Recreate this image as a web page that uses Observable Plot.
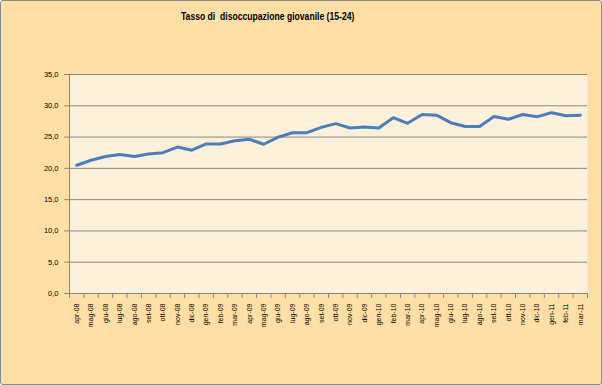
<!DOCTYPE html>
<html>
<head>
<meta charset="utf-8">
<script src="https://cdn.jsdelivr.net/npm/d3@7"></script>
<script src="https://cdn.jsdelivr.net/npm/@observablehq/plot@0.6"></script>
<style>
  html, body { margin: 0; padding: 0; background: #fff; }
  #wrap {
    position: relative; width: 600px; height: 383px;
    border: 1px solid #8a8a8a; border-radius: 3px;
    background: #FFDFA6; overflow: hidden;
  }
  #title {
    position: absolute; left: 180px; top: 10px;
    font-family: "Liberation Sans", Arial, sans-serif;
    font-weight: bold; font-size: 10px; color: #000; white-space: pre;
    transform-origin: 0 0; transform: scaleX(0.86);
  }
  #chart { position: absolute; left: 0; top: 30px; }
</style>
</head>
<body>
<div id="wrap">
  <div id="title">Tasso di  disoccupazione giovanile (15-24)</div>
  <div id="chart"></div>
</div>
<script>
const months = ["apr-08","mag-08","giu-08","lug-08","ago-08","set-08","ott-08","nov-08","dic-08",
  "gen-09","feb-09","mar-09","apr-09","mag-09","giu-09","lug-09","ago-09","set-09","ott-09","nov-09","dic-09",
  "gen-10","feb-10","mar-10","apr-10","mag-10","giu-10","lug-10","ago-10","set-10","ott-10","nov-10","dic-10",
  "gen-11","feb-11","mar-11"];
const values = [20.5, 21.3, 21.9, 22.2, 21.9, 22.3, 22.5, 23.4, 22.9,
  23.9, 23.9, 24.4, 24.65, 23.85, 25.0, 25.7, 25.7, 26.55, 27.15, 26.45, 26.6,
  26.45, 28.1, 27.2, 28.6, 28.5, 27.3, 26.7, 26.7, 28.3, 27.85, 28.6, 28.25,
  28.9, 28.4, 28.5];
const yTicks = [0, 5, 10, 15, 20, 25, 30, 35];

const data = months.map((m, k) => ({pos: k + 0.5, m, v: values[k]}));
const bounds = d3.range(months.length + 1);

const chart = Plot.plot({
  width: 600, height: 353,
  marginTop: 43, marginBottom: 91, marginLeft: 68, marginRight: 14,
  style: {background: "transparent", fontFamily: "'Liberation Sans', Arial, sans-serif", fontSize: "7.5px", color: "#000"},
  x: {domain: [0, months.length], axis: null},
  y: {domain: [0, 35], axis: null},
  marks: [
    Plot.frame({fill: "#FEF1DC", stroke: null}),
    Plot.gridY(yTicks.slice(1), {stroke: "#868686", strokeOpacity: 1, strokeWidth: 1}),
    Plot.ruleX([0], {stroke: "#868686"}),
    Plot.ruleY([0], {stroke: "#868686"}),
    Plot.axisY(yTicks, {label: null, tickSize: 5, tickPadding: 6, stroke: "#868686", fill: "#000",
      tickFormat: d => d.toFixed(1).replace(".", ",")}),
    Plot.axisX(bounds, {label: null, tickSize: 5, tickFormat: () => "", stroke: "#868686"}),
    Plot.text(data, {x: "pos", y: () => 0, text: "m", rotate: -90, textAnchor: "end",
      lineAnchor: "middle", dy: 10, fontSize: 7, fill: "#000"}),
    Plot.line(data, {x: "pos", y: "v", stroke: "#4A7EBB", strokeWidth: 3, strokeLinejoin: "round"})
  ]
});
document.getElementById("chart").appendChild(chart);
</script>
</body>
</html>
